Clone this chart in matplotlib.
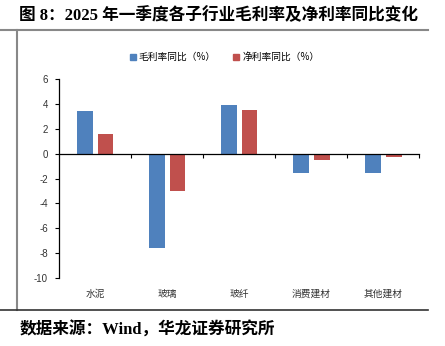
import numpy as np
import matplotlib.pyplot as plt
from matplotlib.lines import Line2D
from matplotlib.patches import Patch

plt.rcParams['font.family'] = ['Liberation Sans', 'Noto Sans CJK SC']

# 各子行业毛利率/净利率同比变化（%）
categories = ['水泥', '玻璃', '玻纤', '消费建材', '其他建材']
gross_margin_yoy = [3.4, -7.55, 3.9, -1.55, -1.55]
net_margin_yoy = [1.55, -3.0, 3.47, -0.52, -0.27]
yticks = [6, 4, 2, 0, -2, -4, -6, -8, -10]

blue = '#4F81BD'
red = '#C0504D'

fig = plt.figure(figsize=(4.45, 3.46), dpi=100)
ax = fig.add_axes([0.1326, 0.1965, 0.8094, 0.5752])

x = np.arange(len(categories))
w = 0.22
off = 0.145
ax.bar(x - off, gross_margin_yoy, w, color=blue, zorder=2)
ax.bar(x + off, net_margin_yoy, w, color=red, zorder=2)

ax.set_xlim(-0.5, len(categories) - 0.5)
ax.set_ylim(-10, 6)
ax.set_yticks(yticks)
ax.set_yticklabels([str(v) for v in yticks], fontsize=7, color='#333333',
                   family='Liberation Sans')
ax.tick_params(axis='y', direction='out', length=3, width=0.8, pad=5)

for s in ['top', 'right']:
    ax.spines[s].set_visible(False)
ax.spines['left'].set_linewidth(0.9)
ax.spines['bottom'].set_position(('data', 0))
ax.spines['bottom'].set_linewidth(0.9)

ax.set_xticks(x + 0.5)
ax.set_xticklabels([])
ax.tick_params(axis='x', direction='out', length=3, width=0.8)

for i, c in enumerate(categories):
    ax.text(i, -0.055, c, transform=ax.get_xaxis_transform(), ha='center',
            va='top', fontsize=7, color='#333333', family='Noto Sans CJK SC')

handles = [Patch(color=blue, label='毛利率同比（%）'),
           Patch(color=red, label='净利率同比（%）')]
fig.legend(handles=handles, loc='center', bbox_to_anchor=(0.505, 0.835), ncol=2,
           frameon=False, handlelength=0.6, handleheight=0.6,
           handletextpad=0.3, columnspacing=1.8,
           prop={'family': 'Noto Sans CJK SC', 'size': 7})

# 标题与来源
fig.text(0.043, 0.955, '图 8：2025 年一季度各子行业毛利率及净利率同比变化',
         fontsize=12, fontweight='bold', va='center', ha='left',
         family=['Liberation Serif', 'Noto Sans CJK SC'])
fig.text(0.043, 0.045, '数据来源：Wind，华龙证券研究所', fontsize=12,
         fontweight='bold', va='center', ha='left',
         family=['Liberation Serif', 'Noto Sans CJK SC'])

# 框线
fig.add_artist(Line2D([0, 0.962], [1 - 30 / 346] * 2, color='#888888', lw=1.5,
                      transform=fig.transFigure))
fig.add_artist(Line2D([17 / 445] * 2, [1 - 30 / 346, 1 - 310 / 346], color='#888888',
                      lw=1.5, transform=fig.transFigure))
fig.add_artist(Line2D([0, 0.962], [1 - 310 / 346] * 2, color='#333333', lw=1.2,
                      transform=fig.transFigure))

fig.savefig('out.png', dpi=100)
